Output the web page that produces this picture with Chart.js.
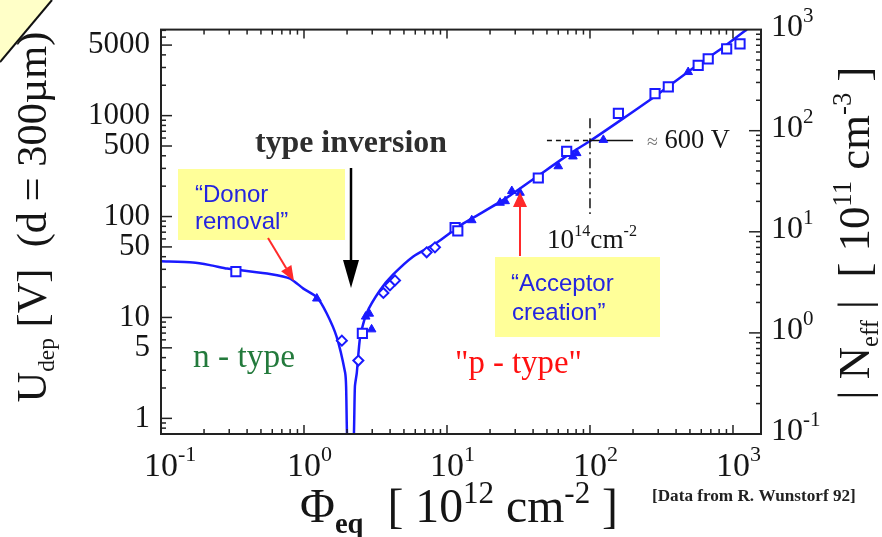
<!DOCTYPE html>
<html>
<head>
<meta charset="utf-8">
<script src="https://cdn.jsdelivr.net/npm/chart.js@4.4.1/dist/chart.umd.min.js"></script>
<style>
  html, body { margin: 0; padding: 0; background: #fff; }
  #wrap { width: 882px; height: 537px; }
</style>
</head>
<body>
<div id="wrap"><canvas id="depChart" width="882" height="537"></canvas></div>
<script>
// ── Data: fluence Phi_eq [1e12 cm^-2] vs depletion voltage U_dep [V] ──
const curvePhi = [0.1, 0.167, 0.22, 0.29, 0.374, 0.578, 0.80, 0.99, 1.23, 1.44, 1.69, 1.94, 1.97, 2.03,
                  2.20, 2.27, 2.34, 2.47, 2.74, 3.40, 4.19, 5.78, 8.47, 12.3, 15.3, 26.1, 44.7, 76.4,
                  100, 171, 292, 500, 855, 1250];
const curveU   = [36, 35, 33, 30.5, 29.2, 27.0, 24.3, 19.3, 15.9, 11.0, 6.45, 2.83, 2.07, 0.4,
                  0.4, 2.07, 2.83, 6.45, 11.0, 18.6, 26.5, 40, 55, 81, 97.5, 153, 261, 442,
                  560, 939, 1594, 2806, 4760, 7150];

const squarePhi = [0.334, 2.56, 11.4, 11.9, 43.5, 68.7, 158, 285, 353, 571, 671, 903, 1120];
const squareU   = [28.5, 6.96, 77.8, 72.2, 241, 442, 1052, 1652, 1924, 3146, 3650, 4580, 5130];

const trianglePhi = [1.23, 2.7, 2.86, 2.97, 14.9, 23.5, 25.5, 28.4, 32.4, 60, 76, 80.7, 124, 486];
const triangleU   = [15.4, 10.2, 10.9, 7.62, 92, 137, 142, 179, 172, 315, 394, 425, 575, 2704];

const diamondPhi = [1.84, 2.40, 3.59, 3.99, 4.33, 7.21, 8.24];
const diamondU   = [5.89, 3.74, 17.5, 20.8, 23.3, 44.2, 49.5];

// ≈600 V at 1e14 cm^-2 cross-hair
const crossDashPhi  = [50, 100];
const crossSolidPhi = [100, 200];
const crossU        = 566;
const crossVertU    = [940, 106];

// tick labels
const yTicks      = [1, 5, 10, 50, 100, 500, 1000, 5000];
const xDecades    = [-1, 0, 1, 2, 3];
const neffDecades = [-1, 0, 1, 2, 3];

const SERIF = "'Liberation Serif', 'Times New Roman', serif";
const SANS  = "'Liberation Sans', Arial, sans-serif";
const BLUE  = '#1a1aff';
const INK   = '#151515';

const pts = (xs, ys) => xs.map((x, i) => ({ x, y: Array.isArray(ys) ? ys[i] : ys }));

// ── rich text helpers (sub/superscripts) ──
function partFont(p, k) {
    return (p.b ? 'bold ' : '') + (p.s * k).toFixed(2) + 'px ' + (p.f || SERIF);
}
function richWidth(ctx, parts, k) {
    let w = 0;
    parts.forEach(p => { ctx.font = partFont(p, k); w += ctx.measureText(p.t).width; });
    return w;
}
function drawRich(ctx, parts, x, y, o) {
    const k = o.width ? o.width / richWidth(ctx, parts, 1) : 1;
    const w = richWidth(ctx, parts, k);
    let cx = o.align === 'center' ? x - w / 2 : (o.align === 'right' ? x - w : x);
    ctx.textAlign = 'left';
    ctx.textBaseline = 'alphabetic';
    parts.forEach(p => {
        ctx.font = partFont(p, k);
        ctx.fillStyle = p.c || o.color || INK;
        ctx.fillText(p.t, cx, y + (p.dy || 0) * k);
        cx += ctx.measureText(p.t).width;
    });
}
function arrow(ctx, x1, y1, x2, y2, head, hw, color, lw) {
    const ang = Math.atan2(y2 - y1, x2 - x1);
    const bx = x2 - Math.cos(ang) * head, by = y2 - Math.sin(ang) * head;
    ctx.strokeStyle = color; ctx.fillStyle = color; ctx.lineWidth = lw;
    ctx.beginPath(); ctx.moveTo(x1, y1); ctx.lineTo(bx, by); ctx.stroke();
    ctx.beginPath();
    ctx.moveTo(x2, y2);
    ctx.lineTo(bx + Math.sin(ang) * hw, by - Math.cos(ang) * hw);
    ctx.lineTo(bx - Math.sin(ang) * hw, by + Math.cos(ang) * hw);
    ctx.closePath(); ctx.fill();
}

// ── frame, inward ticks, labels and annotations ──
const decorPlugin = {
    id: 'decor',
    afterDraw(chart) {
        const { ctx, chartArea: a, scales } = chart;
        const sx = scales.x, sy = scales.y, sn = scales.y2;
        ctx.save();

        // page corner
        ctx.fillStyle = '#ffffc8';
        ctx.beginPath(); ctx.moveTo(0, 0); ctx.lineTo(52, 0); ctx.lineTo(0, 62); ctx.closePath(); ctx.fill();
        ctx.strokeStyle = '#111'; ctx.lineWidth = 2;
        ctx.beginPath(); ctx.moveTo(52, 0); ctx.lineTo(0, 62); ctx.stroke();

        // frame
        ctx.strokeStyle = '#222'; ctx.lineWidth = 2;
        ctx.strokeRect(a.left, a.top, a.right - a.left, a.bottom - a.top);

        // ticks
        ctx.lineWidth = 1.5;
        const seg = (x1, y1, x2, y2) => { ctx.beginPath(); ctx.moveTo(x1, y1); ctx.lineTo(x2, y2); ctx.stroke(); };
        for (let e = -1; e <= 3; e++) for (let m = 1; m <= 9; m++) {
            const v = m * Math.pow(10, e);
            if (v <= sx.min || v >= sx.max) continue;
            const px = sx.getPixelForValue(v), len = m === 1 ? 9 : 5;
            seg(px, a.bottom, px, a.bottom - len);
            seg(px, a.top, px, a.top + len);
        }
        for (let e = -1; e <= 3; e++) for (let m = 1; m <= 9; m++) {
            const v = m * Math.pow(10, e);
            if (v <= sy.min || v >= sy.max) continue;
            const py = sy.getPixelForValue(v), len = (m === 1 || m === 5) ? 11 : 5;
            seg(a.left, py, a.left + len, py);
        }
        for (let e = -1; e <= 2; e++) for (let m = 1; m <= 9; m++) {
            const v = m * Math.pow(10, e);
            if (v <= sn.min || v >= sn.max) continue;
            const py = sn.getPixelForValue(v), len = m === 1 ? 12 : 5;
            seg(a.right, py, a.right - len, py);
        }

        // x tick labels 10^n
        xDecades.forEach(e => {
            const px = sx.getPixelForValue(Math.pow(10, e));
            ctx.font = '34px ' + SERIF;
            const w10 = ctx.measureText('10').width;
            drawRich(ctx, [{ t: '10', s: 34 }, { t: String(e), s: 22, dy: -15 }], px - w10 / 2, 476, { align: 'left' });
        });
        // right axis |Neff| labels
        neffDecades.forEach(e => {
            const py = sn.getPixelForValue(Math.pow(10, e));
            drawRich(ctx, [{ t: '10', s: 32 }, { t: String(e), s: 21, dy: -14 }], 771, py + 6, { align: 'left' });
        });

        // axis titles
        ctx.save();
        ctx.translate(46, 217); ctx.rotate(-Math.PI / 2);
        drawRich(ctx, [{ t: 'U', s: 40 }, { t: 'dep', s: 22, dy: 8 }, { t: ' [V]  (d = 300µm)', s: 40 }], 0, 0, { align: 'center', width: 371 });
        ctx.restore();

        ctx.save();
        ctx.translate(869, 233); ctx.rotate(-Math.PI / 2);
        drawRich(ctx, [{ t: '| N', s: 40 }, { t: 'eff', s: 22, dy: 8 }, { t: ' |  [ 10', s: 40 }, { t: '11', s: 24, dy: -16 },
                       { t: ' cm', s: 40 }, { t: '-3', s: 24, dy: -16 }, { t: ' ]', s: 40 }], 0, 0, { align: 'center', width: 333 });
        ctx.restore();

        drawRich(ctx, [{ t: 'Φ', s: 40 }, { t: 'eq', s: 24, dy: 9, b: true }, { t: '  [ 10', s: 40 }, { t: '12', s: 26, dy: -16 },
                       { t: ' cm', s: 40 }, { t: '-2', s: 26, dy: -16 }, { t: ' ]', s: 40 }], 300, 522, { align: 'left', width: 318 });

        drawRich(ctx, [{ t: '[Data from R. Wunstorf 92]', s: 10, b: true }], 652, 501, { align: 'left', width: 204, color: '#222' });

        // donor removal box
        ctx.fillStyle = '#ffff99';
        ctx.fillRect(178, 169, 167, 71);
        drawRich(ctx, [{ t: '“Donor', s: 24, f: SANS }], 195, 202, { color: '#2424e0' });
        drawRich(ctx, [{ t: 'removal”', s: 24, f: SANS }], 195, 229, { color: '#2424e0' });
        arrow(ctx, 268, 238, 294, 281, 15, 6, '#ff2a2a', 2);

        // acceptor creation box
        ctx.fillStyle = '#ffff99';
        ctx.fillRect(495, 257, 165, 80);
        drawRich(ctx, [{ t: '“Acceptor', s: 24, f: SANS }], 511, 291, { color: '#2424e0' });
        drawRich(ctx, [{ t: 'creation”', s: 24, f: SANS }], 512, 320, { color: '#2424e0' });
        arrow(ctx, 520, 256, 520, 192, 15, 7, '#ff2a2a', 2);

        // type inversion
        drawRich(ctx, [{ t: 'type inversion', s: 24, b: true }], 351, 152, { align: 'center', width: 192, color: '#2e2e2e' });
        arrow(ctx, 351, 168, 351, 288, 28, 8, '#000', 2.5);

        drawRich(ctx, [{ t: 'n - type', s: 24 }], 193, 367, { width: 102, color: '#237a3c' });
        drawRich(ctx, [{ t: '"p - type"', s: 24 }], 455, 373, { width: 127, color: '#ff1010' });

        drawRich(ctx, [{ t: '≈', s: 18, c: '#777' }, { t: ' 600 V', s: 24 }], 647, 148, { width: 83 });
        drawRich(ctx, [{ t: '10', s: 22 }, { t: '14', s: 13, dy: -10 }, { t: 'cm', s: 22 }, { t: '-2', s: 13, dy: -10 }], 547, 248, { width: 90 });

        ctx.restore();
    }
};

new Chart(document.getElementById('depChart'), {
    type: 'scatter',
    data: {
        datasets: [
            {
                label: 'squares', data: pts(squarePhi, squareU), order: 1,
                pointStyle: 'rect', pointRadius: 6.5, borderColor: BLUE, backgroundColor: '#fff', borderWidth: 2,
            },
            {
                label: 'triangles', data: pts(trianglePhi, triangleU), order: 1,
                pointStyle: 'triangle', pointRadius: 5, borderColor: BLUE, backgroundColor: BLUE, borderWidth: 1,
            },
            {
                label: 'diamonds', data: pts(diamondPhi, diamondU), order: 1,
                pointStyle: 'rectRot', pointRadius: 5, borderColor: BLUE, backgroundColor: '#fff', borderWidth: 2,
            },
            {
                label: 'fit', data: pts(curvePhi, curveU), order: 5,
                showLine: true, pointRadius: 0, borderColor: BLUE, borderWidth: 2.5, tension: 0.2,
            },
            {
                label: 'crossDash', data: pts(crossDashPhi, crossU), order: 2,
                showLine: true, pointRadius: 0, borderColor: '#111', borderWidth: 1.5, borderDash: [5, 4],
            },
            {
                label: 'crossSolid', data: pts(crossSolidPhi, crossU), order: 2,
                showLine: true, pointRadius: 0, borderColor: '#111', borderWidth: 1.5,
            },
            {
                label: 'crossVert', data: crossVertU.map(u => ({ x: 100, y: u })), order: 2,
                showLine: true, pointRadius: 0, borderColor: '#111', borderWidth: 1.5, borderDash: [10, 4, 2, 4],
            },
        ]
    },
    options: {
        responsive: false,
        animation: false,
        devicePixelRatio: 1,
        layout: { padding: { top: 27, left: 0, right: 0, bottom: 0 } },
        plugins: { legend: { display: false }, tooltip: { enabled: false } },
        scales: {
            x: {
                type: 'logarithmic', min: 0.1, max: 1570,
                grid: { display: false, drawTicks: false }, border: { display: false },
                ticks: { display: false },
                afterFit: s => { s.height = 103; },
            },
            y: {
                type: 'logarithmic', position: 'left', min: 0.712, max: 7120,
                grid: { display: false, drawTicks: false }, border: { display: false },
                ticks: {
                    color: INK, padding: 11, autoSkip: false, maxRotation: 0,
                    font: { family: SERIF, size: 31 },
                    callback: v => String(v),
                },
                afterBuildTicks: s => { s.ticks = yTicks.map(v => ({ value: v })); },
                afterFit: s => { s.width = 161; },
            },
            y2: {
                type: 'logarithmic', position: 'right', min: 0.1, max: 1000,
                grid: { display: false, drawTicks: false }, border: { display: false },
                ticks: { display: false },
                afterFit: s => { s.width = 121; },
            },
        }
    },
    plugins: [decorPlugin]
});
</script>
</body>
</html>
